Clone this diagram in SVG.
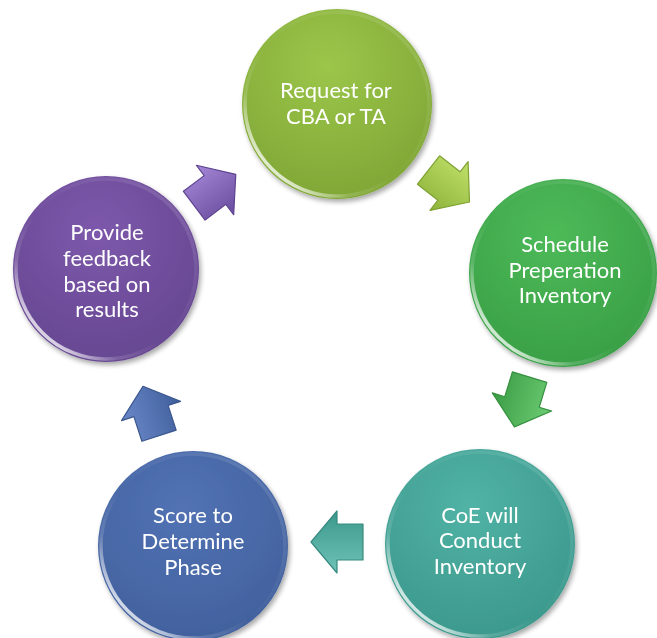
<svg xmlns="http://www.w3.org/2000/svg" width="657" height="638" viewBox="0 0 657 638">
<style>
.lbl{font-family:Lato,"Open Sans","Liberation Sans",sans-serif;font-size:22px;fill:#ffffff;text-anchor:middle}
.rim{fill:none;stroke:url(#rimg);stroke-width:3.5}
.arr{stroke-width:1.2;stroke-linejoin:round}
</style>
<defs>
<filter id="sh" x="-20%" y="-20%" width="140%" height="140%">
<feGaussianBlur in="SourceAlpha" stdDeviation="2.5"/>
<feOffset dx="2" dy="3" result="b"/>
<feComponentTransfer><feFuncA type="linear" slope="0.35"/></feComponentTransfer>
<feMerge><feMergeNode/><feMergeNode in="SourceGraphic"/></feMerge>
</filter>
<linearGradient id="rimg" x1="1" y1="0" x2="0" y2="1">
<stop offset="0" stop-color="#fff" stop-opacity="0.15"/>
<stop offset="0.55" stop-color="#fff" stop-opacity="0"/>
<stop offset="0.72" stop-color="#fff" stop-opacity="0.15"/>
<stop offset="0.85" stop-color="#fff" stop-opacity="0.75"/>
<stop offset="1" stop-color="#fff" stop-opacity="0.2"/>
</linearGradient>
<radialGradient id="gTop" cx="0.45" cy="0.3" r="0.75"><stop offset="0" stop-color="#9bc64a"/><stop offset="1" stop-color="#7fa535"/></radialGradient>
<radialGradient id="gRight" cx="0.45" cy="0.3" r="0.75"><stop offset="0" stop-color="#4dba58"/><stop offset="1" stop-color="#389e45"/></radialGradient>
<radialGradient id="gTeal" cx="0.45" cy="0.3" r="0.75"><stop offset="0" stop-color="#50b3a5"/><stop offset="1" stop-color="#3b978b"/></radialGradient>
<radialGradient id="gBlue" cx="0.45" cy="0.3" r="0.75"><stop offset="0" stop-color="#5272b4"/><stop offset="1" stop-color="#41609c"/></radialGradient>
<radialGradient id="gPurp" cx="0.45" cy="0.3" r="0.75"><stop offset="0" stop-color="#7d58ab"/><stop offset="1" stop-color="#654690"/></radialGradient>
<linearGradient id="aPurp" x1="0" y1="0" x2="0" y2="1"><stop offset="0" stop-color="#a487d6"/><stop offset="1" stop-color="#6a4c9e"/></linearGradient>
<linearGradient id="aYel" x1="0" y1="0" x2="0" y2="1"><stop offset="0" stop-color="#c0e06a"/><stop offset="1" stop-color="#8db33a"/></linearGradient>
<linearGradient id="aGrn" x1="0" y1="0" x2="0" y2="1"><stop offset="0" stop-color="#6ccc74"/><stop offset="1" stop-color="#3a9c45"/></linearGradient>
<linearGradient id="aTeal" x1="0" y1="0" x2="0" y2="1"><stop offset="0" stop-color="#6fc2b7"/><stop offset="1" stop-color="#3c988c"/></linearGradient>
<linearGradient id="aBlue" x1="0" y1="0" x2="0" y2="1"><stop offset="0" stop-color="#6a88c8"/><stop offset="1" stop-color="#3f5e9b"/></linearGradient>
<polygon id="arrow" points="-26,-18 0,-18 0,-31 26,0 0,31 0,18 -26,18"/>
</defs>
<rect width="657" height="638" fill="#ffffff"/>
<g id="connectors">
<use href="#arrow" class="arr" fill="url(#aPurp)" stroke="#5e4390" transform="translate(215,190) rotate(-37)"/>
<use href="#arrow" class="arr" fill="url(#aYel)" stroke="#7fa233" transform="translate(449,186) rotate(38)"/>
<use href="#arrow" class="arr" fill="url(#aGrn)" stroke="#35903f" transform="translate(522,402) rotate(107)"/>
<use href="#arrow" class="arr" fill="url(#aTeal)" stroke="#368a7f" transform="translate(337,542) rotate(180)"/>
<use href="#arrow" class="arr" fill="url(#aBlue)" stroke="#3a568e" transform="translate(151,411) rotate(-108)"/>
</g>
<g id="node-request" filter="url(#sh)">
<circle cx="337" cy="104" r="95" fill="url(#gTop)"/>
<circle cx="337" cy="104" r="92" class="rim"/>
<text class="lbl" x="336" y="98">Request for</text>
<text class="lbl" x="336" y="124">CBA or TA</text>
</g>
<g id="node-schedule" filter="url(#sh)">
<circle cx="563" cy="273" r="94" fill="url(#gRight)"/>
<circle cx="563" cy="273" r="91" class="rim"/>
<text class="lbl" x="565" y="252">Schedule</text>
<text class="lbl" x="565" y="278">Preperation</text>
<text class="lbl" x="565" y="303">Inventory</text>
</g>
<g id="node-conduct" filter="url(#sh)">
<circle cx="480" cy="544" r="95" fill="url(#gTeal)"/>
<circle cx="480" cy="544" r="92" class="rim"/>
<text class="lbl" x="480" y="523">CoE will</text>
<text class="lbl" x="480" y="548">Conduct</text>
<text class="lbl" x="480" y="574">Inventory</text>
</g>
<g id="node-score" filter="url(#sh)">
<circle cx="193" cy="546" r="95" fill="url(#gBlue)"/>
<circle cx="193" cy="546" r="92" class="rim"/>
<text class="lbl" x="193" y="523">Score to</text>
<text class="lbl" x="193" y="549">Determine</text>
<text class="lbl" x="193" y="575">Phase</text>
</g>
<g id="node-feedback" filter="url(#sh)">
<circle cx="106" cy="269" r="93" fill="url(#gPurp)"/>
<circle cx="106" cy="269" r="90" class="rim"/>
<text class="lbl" x="107" y="240">Provide</text>
<text class="lbl" x="107" y="266">feedback</text>
<text class="lbl" x="107" y="292">based on</text>
<text class="lbl" x="107" y="317">results</text>
</g>
</svg>
